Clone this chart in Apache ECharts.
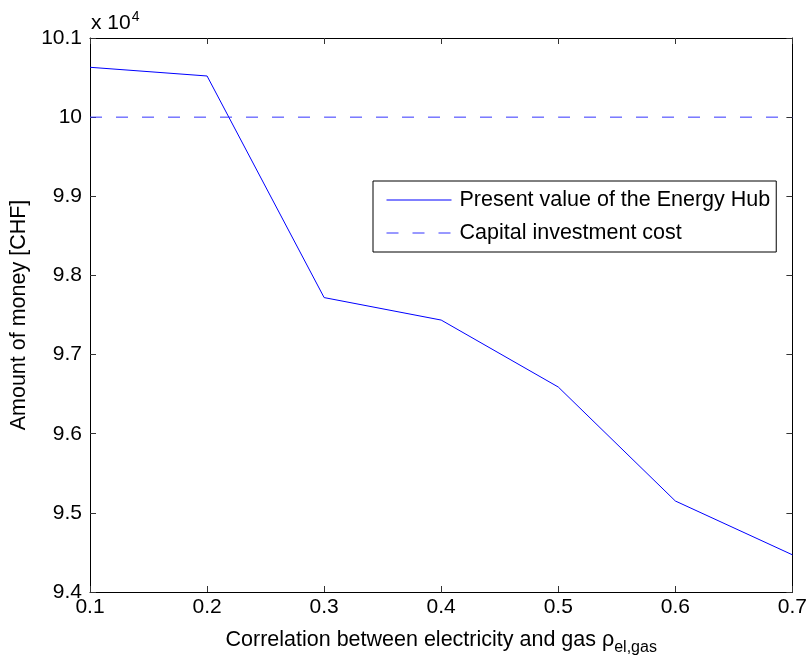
<!DOCTYPE html>
<html>
<head>
<meta charset="utf-8">
<script src="https://cdn.jsdelivr.net/npm/echarts@6/dist/echarts.min.js"></script>
<style>
html,body{margin:0;padding:0;background:#fff;}
#main{width:810px;height:661px;}
</style>
</head>
<body>
<div id="main"></div>
<script>
// Data (values in CHF)
const correlations = ['0.1', '0.2', '0.3', '0.4', '0.5', '0.6', '0.7'];
const presentValue = [100630, 100520, 97720, 97436, 96590, 95150, 94470];
const capitalCost = [100000, 100000, 100000, 100000, 100000, 100000, 100000];
const yMin = 94000, yMax = 101000, yStep = 1000;
const seriesNames = ['Present value of the Energy Hub', 'Capital investment cost'];

const FONT = '"Liberation Sans", Arial, Helvetica, sans-serif';
const chart = echarts.init(document.getElementById('main'));

const fmtY = v => String(parseFloat((v / 1e4).toFixed(1)));

chart.setOption({
  animation: false,
  backgroundColor: '#fff',
  textStyle: { fontFamily: FONT },
  grid: { left: 90, right: 15, top: 38, bottom: 69, show: false },
  legend: {
    orient: 'vertical',
    left: 373, top: 181,
    padding: [8, 6, 8, 13],
    itemWidth: 65, itemHeight: 20, itemGap: 11,
    borderColor: '#000', borderWidth: 1,
    backgroundColor: '#fff',
    itemStyle: { opacity: 0 },
    lineStyle: { width: 1 },
    textStyle: { fontFamily: FONT, fontSize: 21.5, color: '#000', padding: [0, 0, 0, 3] },
    data: seriesNames
  },
  graphic: [{
    type: 'text', left: 91, top: 10,
    style: {
      text: 'x 10{s|4}',
      fontFamily: FONT, fontSize: 21, fill: '#000',
      rich: { s: { fontFamily: FONT, fontSize: 14, fill: '#000', padding: [0, 0, 12, 1] } }
    }
  }],
  xAxis: [{
    type: 'category', data: correlations, boundaryGap: false, position: 'bottom',
    axisLine: { lineStyle: { color: '#000', width: 1 } },
    axisTick: { inside: true, length: 6, lineStyle: { color: '#333' } },
    axisLabel: { fontFamily: FONT, fontSize: 21, color: '#000', margin: 5 },
    splitLine: { show: false },
    name: 'Correlation between electricity and gas ρ{sub|el,gas}',
    nameLocation: 'middle', nameGap: 33,
    nameTextStyle: {
      fontFamily: FONT, fontSize: 21.5, color: '#000',
      rich: { sub: { fontFamily: FONT, fontSize: 16, color: '#000', padding: [15, 0, 0, 0] } }
    }
  }, {
    type: 'category', data: correlations, boundaryGap: false, position: 'top',
    axisLine: { lineStyle: { color: '#000', width: 1 } },
    axisTick: { inside: true, length: 6, lineStyle: { color: '#333' } },
    axisLabel: { show: false }, splitLine: { show: false }
  }],
  yAxis: [{
    type: 'value', min: yMin, max: yMax, interval: yStep, position: 'left',
    axisLine: { show: true, lineStyle: { color: '#000', width: 1 } },
    axisTick: { show: true, inside: true, length: 6, lineStyle: { color: '#333' } },
    axisLabel: { fontFamily: FONT, fontSize: 21, color: '#000', margin: 8, formatter: fmtY },
    splitLine: { show: false },
    name: 'Amount of money [CHF]', nameLocation: 'middle', nameGap: 57,
    nameTextStyle: { fontFamily: FONT, fontSize: 21.5, color: '#000' }
  }, {
    type: 'value', min: yMin, max: yMax, interval: yStep, position: 'right',
    axisLine: { show: true, lineStyle: { color: '#000', width: 1 } },
    axisTick: { show: true, inside: true, length: 6, lineStyle: { color: '#333' } },
    axisLabel: { show: false }, splitLine: { show: false }
  }],
  series: [{
    name: seriesNames[0], type: 'line', data: presentValue,
    showSymbol: false, symbol: 'none',
    lineStyle: { color: '#0000ff', width: 1 }, itemStyle: { color: '#0000ff' }
  }, {
    name: seriesNames[1], type: 'line', data: capitalCost,
    showSymbol: false, symbol: 'none',
    lineStyle: { color: '#3333ff', width: 1, type: [12, 14] }, itemStyle: { color: '#3333ff' }
  }]
});
</script>
</body>
</html>
